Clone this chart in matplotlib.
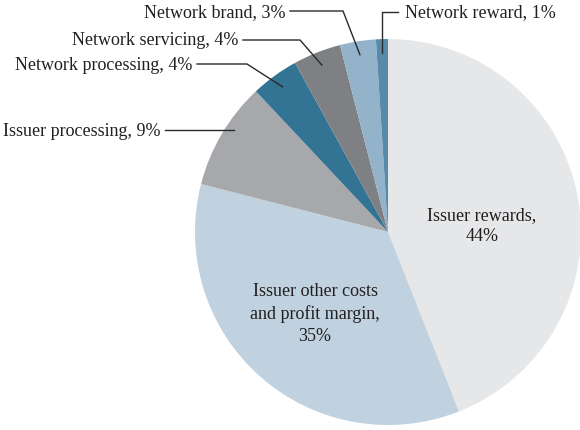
import numpy as np
import matplotlib
matplotlib.use("Agg")
import matplotlib.pyplot as plt

labels = ["Issuer rewards", "Issuer other costs\nand profit margin", "Issuer processing",
          "Network processing", "Network servicing", "Network brand", "Network reward"]
values = [44, 35, 9, 4, 4, 3, 1]
colors = ["#E6E7E9", "#C0D2E0", "#A7A8AB", "#337393", "#7F8083", "#93B3CB", "#5A8AAA"]

W, H = 580, 431
fig = plt.figure(figsize=(W / 100, H / 100), dpi=100)
ax = fig.add_axes([0, 0, 1, 1])

cx, cy, R = 388, H - 233, 193
wedges, _ = ax.pie(values, colors=colors, startangle=90, counterclock=False,
                   center=(cx, cy), radius=R, frame=True,
                   wedgeprops=dict(linewidth=0))
ax.set_xlim(0, W)
ax.set_ylim(0, H)
ax.axis("off")

font = dict(family="Liberation Serif", size=13, color="#231F20")
lc = "#2a2a2a"
lw = 1.0

def anchor(w, frac=0.93):
    th = np.deg2rad((w.theta1 + w.theta2) / 2)
    return cx + frac * R * np.cos(th), cy + frac * R * np.sin(th)

def py(y):
    return H - y

# inner labels
ax.text(cx + 94, py(226), f"{labels[0]},\n{values[0]}%", ha="center", va="center",
        linespacing=1.35, **font)
ax.text(cx - 73, py(314), f"{labels[1]},\n{values[1]}%", ha="center", va="center",
        linespacing=1.4, **font)

# Network reward
ax_, ay_ = anchor(wedges[6])
ax.plot([ax_, ax_, 398], [ay_, py(13), py(13)], color=lc, lw=lw)
ax.text(405, py(13), f"{labels[6]}, {values[6]}%", ha="left", va="center", **font)

# Network brand
ax_, ay_ = anchor(wedges[5])
ax.plot([ax_, 343, 290], [ay_, py(12), py(12)], color=lc, lw=lw)
ax.text(285, py(13), f"{labels[5]}, {values[5]}%", ha="right", va="center", **font)

# Network servicing
ax_, ay_ = anchor(wedges[4])
ax.plot([ax_, 300, 243], [ay_, py(41), py(41)], color=lc, lw=lw)
ax.text(238, py(40), f"{labels[4]}, {values[4]}%", ha="right", va="center", **font)

# Network processing
ax_, ay_ = anchor(wedges[3])
ax.plot([ax_, 247, 197], [ay_, py(65), py(65)], color=lc, lw=lw)
ax.text(192, py(65), f"{labels[3]}, {values[3]}%", ha="right", va="center", **font)

# Issuer processing
ax_, ay_ = anchor(wedges[2])
ax.plot([ax_, 165], [py(131), py(131)], color=lc, lw=lw)
ax.text(160, py(131), f"{labels[2]}, {values[2]}%", ha="right", va="center", **font)

fig.savefig("out.png", dpi=100)
